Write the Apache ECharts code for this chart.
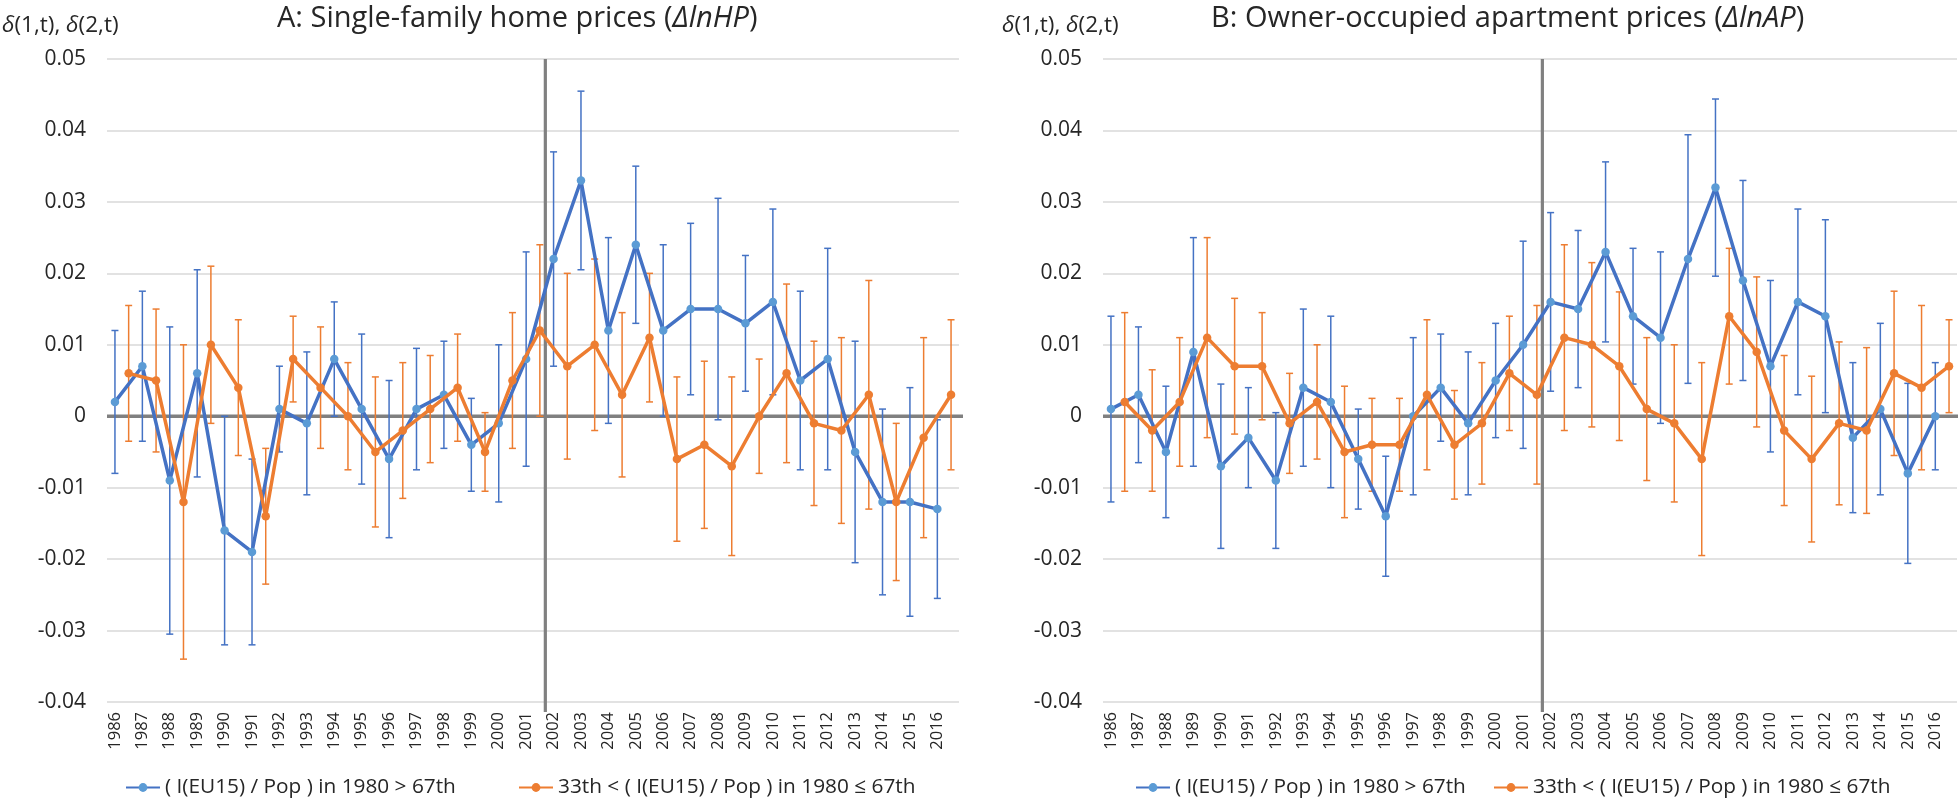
<!DOCTYPE html>
<html><head><meta charset="utf-8">
<script src="https://cdn.jsdelivr.net/npm/echarts@6/dist/echarts.min.js"></script>
<style>html,body{margin:0;padding:0;background:#fff}#c{width:1958px;height:802px}</style>
</head><body><div id="c"></div>
<script>
// ---- data ----
const years = [1986,1987,1988,1989,1990,1991,1992,1993,1994,1995,1996,1997,1998,1999,2000,2001,2002,2003,2004,2005,2006,2007,2008,2009,2010,2011,2012,2013,2014,2015,2016];
const yTicks = [-0.04,-0.03,-0.02,-0.01,0,0.01,0.02,0.03,0.04,0.05];
const breakYear = 2001.7;

const nameHigh = '( I(EU15) / Pop ) in 1980 > 67th';
const nameMid = '33th < ( I(EU15) / Pop ) in 1980 ≤ 67th';

const A_high = [0.002,0.007,-0.009,0.006,-0.016,-0.019,0.001,-0.001,0.008,0.001,-0.006,0.001,0.003,-0.004,-0.001,0.008,0.022,0.033,0.012,0.024,0.012,0.015,0.015,0.013,0.016,0.005,0.008,-0.005,-0.012,-0.012,-0.013];
const A_high_err = [0.010,0.0105,0.0215,0.0145,0.016,0.013,0.006,0.010,0.008,0.0105,0.011,0.0085,0.0075,0.0065,0.011,0.015,0.015,0.0125,0.013,0.011,0.012,0.012,0.0155,0.0095,0.013,0.0125,0.0155,0.0155,0.013,0.016,0.0125];
const A_mid = [0.006,0.005,-0.012,0.010,0.004,-0.014,0.008,0.004,0.000,-0.005,-0.002,0.001,0.004,-0.005,0.005,0.012,0.007,0.010,0.003,0.011,-0.006,-0.004,-0.007,0.000,0.006,-0.001,-0.002,0.003,-0.012,-0.003,0.003];
const A_mid_err = [0.0095,0.010,0.022,0.011,0.0095,0.0095,0.006,0.0085,0.0075,0.0105,0.0095,0.0075,0.0075,0.0055,0.0095,0.012,0.013,0.012,0.0115,0.009,0.0115,0.0117,0.0125,0.008,0.0125,0.0115,0.013,0.016,0.011,0.014,0.0105];

const B_high = [0.001,0.003,-0.005,0.009,-0.007,-0.003,-0.009,0.004,0.002,-0.006,-0.014,0.000,0.004,-0.001,0.005,0.010,0.016,0.015,0.023,0.014,0.011,0.022,0.032,0.019,0.007,0.016,0.014,-0.003,0.001,-0.008,0.000];
const B_high_err = [0.013,0.0095,0.0092,0.016,0.0115,0.007,0.0095,0.011,0.012,0.007,0.0084,0.011,0.0075,0.010,0.008,0.0145,0.0125,0.011,0.0126,0.0095,0.012,0.0174,0.0124,0.014,0.012,0.013,0.0135,0.0105,0.012,0.0126,0.0075];
const B_mid = [0.002,-0.002,0.002,0.011,0.007,0.007,-0.001,0.002,-0.005,-0.004,-0.004,0.003,-0.004,-0.001,0.006,0.003,0.011,0.010,0.007,0.001,-0.001,-0.006,0.014,0.009,-0.002,-0.006,-0.001,-0.002,0.006,0.004,0.007];
const B_mid_err = [0.0125,0.0085,0.009,0.014,0.0095,0.0075,0.007,0.008,0.0092,0.0065,0.0065,0.0105,0.0076,0.0085,0.008,0.0125,0.013,0.0115,0.0104,0.010,0.011,0.0135,0.0095,0.0105,0.0105,0.0116,0.0114,0.0116,0.0115,0.0115,0.0065];

// ---- styling / layout ----
const MID_OFFSET = 0.5;   // second group drawn half a year to the right
const X_MIN = 1985.71, X_MAX = 2016.79;
const FONT = '"Open Sans", Lato, sans-serif';
const TXT = '#262626';
const BLUE_LINE = '#4472C4', BLUE_DOT = '#5B9BD5', ORANGE = '#ED7D31';
const AXIS_GRAY = '#808080';

const chart = echarts.init(document.getElementById('c'), null, {renderer: 'canvas'});

const grids = [
  {left: 107, top: 59, width: 852, height: 643},
  {left: 1103, top: 59, width: 854, height: 643}
];

function xAxisFor(i) {
  return {
    type: 'value', gridIndex: i, min: X_MIN, max: X_MAX,
    axisLine: {show: false}, axisTick: {show: false}, splitLine: {show: false},
    axisLabel: {
      customValues: years, rotate: 90, margin: 10,
      fontFamily: FONT, fontSize: 16.5, color: TXT,
      formatter: v => String(Math.round(v))
    }
  };
}
function yAxisFor(i) {
  return {
    type: 'value', gridIndex: i, min: -0.04, max: 0.05, interval: 0.01,
    axisLine: {show: false}, axisTick: {show: false},
    splitLine: {show: true, lineStyle: {color: '#d9d9d9', width: 1.5}},
    axisLabel: {
      margin: 21, fontFamily: FONT, fontSize: 21, color: TXT,
      formatter: v => {
        const r = Math.round(v * 100) / 100;
        return r === 0 ? '0' : String(r);
      }
    }
  };
}

function errRender(color) {
  return function (params, api) {
    const x = api.value(0), lo = api.value(1), hi = api.value(2);
    const p1 = api.coord([x, hi]), p2 = api.coord([x, lo]);
    const w = 3.5;
    const st = {stroke: color, lineWidth: 1.5};
    return {type: 'group', children: [
      {type: 'line', shape: {x1: p1[0], y1: p1[1], x2: p2[0], y2: p2[1]}, style: st},
      {type: 'line', shape: {x1: p1[0] - w, y1: p1[1], x2: p1[0] + w, y2: p1[1]}, style: st},
      {type: 'line', shape: {x1: p2[0] - w, y1: p2[1], x2: p2[0] + w, y2: p2[1]}, style: st}
    ]};
  };
}

function frameRender(params, api) {
  const z0 = api.coord([X_MIN, 0]), z1 = api.coord([X_MAX, 0]);
  const vTop = api.coord([breakYear, 0.05]), vBot = api.coord([breakYear, -0.04]);
  const st = {stroke: AXIS_GRAY, lineWidth: 3.5};
  return {type: 'group', children: [
    {type: 'line', shape: {x1: z0[0], y1: z0[1], x2: z1[0] + 4, y2: z1[1]}, style: st},
    {type: 'line', shape: {x1: vTop[0], y1: vTop[1], x2: vBot[0], y2: vBot[1] + 10}, style: {stroke: AXIS_GRAY, lineWidth: 3.2}}
  ]};
}

function panelSeries(i, high, highErr, mid, midErr) {
  const highPts = years.map((y, k) => [y, high[k]]);
  const midPts = years.map((y, k) => [y + MID_OFFSET, mid[k]]);
  const highBars = years.map((y, k) => [y, high[k] - highErr[k], high[k] + highErr[k]]);
  const midBars = years.map((y, k) => [y + MID_OFFSET, mid[k] - midErr[k], mid[k] + midErr[k]]);
  return [
    {type: 'custom', xAxisIndex: i, yAxisIndex: i, data: [[X_MIN, 0]], renderItem: frameRender,
     clip: false, silent: true, z: 1, encode: {x: 0, y: 1}},
    {type: 'custom', xAxisIndex: i, yAxisIndex: i, data: highBars, renderItem: errRender(BLUE_LINE),
     encode: {x: 0, y: [1, 2]}, z: 2, silent: true},
    {type: 'custom', xAxisIndex: i, yAxisIndex: i, data: midBars, renderItem: errRender(ORANGE),
     encode: {x: 0, y: [1, 2]}, z: 2, silent: true},
    {type: 'line', name: nameHigh, xAxisIndex: i, yAxisIndex: i, data: highPts,
     symbol: 'circle', symbolSize: 8.5, showAllSymbol: true,
     lineStyle: {color: BLUE_LINE, width: 3.5}, itemStyle: {color: BLUE_DOT}, z: 3},
    {type: 'line', name: nameMid, xAxisIndex: i, yAxisIndex: i, data: midPts,
     symbol: 'circle', symbolSize: 8.5, showAllSymbol: true,
     lineStyle: {color: ORANGE, width: 3.5}, itemStyle: {color: ORANGE}, z: 4}
  ];
}

const legendBase = {
  orient: 'horizontal', top: 777, itemWidth: 34, itemHeight: 11, padding: 0,
  textStyle: {fontFamily: FONT, fontSize: 20.8, color: TXT, fontWeight: 'normal'}
};

const deltaRich = {i: {fontStyle: 'italic', fontWeight: 'normal', fontFamily: FONT, fontSize: 22.5, color: TXT},
                   n: {fontWeight: 'normal', fontFamily: FONT, fontSize: 22.5, color: TXT}};
const titleRich = {i: {fontStyle: 'italic', fontWeight: 'normal', fontFamily: FONT, fontSize: 29, color: TXT},
                   n: {fontWeight: 'normal', fontFamily: FONT, fontSize: 29, color: TXT}};

const option = {
  backgroundColor: '#fff',
  animation: false,
  title: [
    {text: '{n|A: Single-family home prices (}{i|ΔlnHP}{n|)}', left: 277, top: 4, padding: 0,
     textStyle: {fontWeight: 'normal', rich: titleRich}},
    {text: '{n|B: Owner-occupied apartment prices (}{i|ΔlnAP}{n|)}', left: 1211, top: 4, padding: 0,
     textStyle: {fontWeight: 'normal', rich: titleRich}},
    {text: '{i|δ}{n|(1,t), }{i|δ}{n|(2,t)}', left: 2, top: 14, padding: 0,
     textStyle: {fontWeight: 'normal', rich: deltaRich}},
    {text: '{i|δ}{n|(1,t), }{i|δ}{n|(2,t)}', left: 1002, top: 14, padding: 0,
     textStyle: {fontWeight: 'normal', rich: deltaRich}}
  ],
  legend: [
    Object.assign({}, legendBase, {data: [nameHigh], left: 125}),
    Object.assign({}, legendBase, {data: [nameMid], left: 518}),
    Object.assign({}, legendBase, {data: [nameHigh], left: 1135}),
    Object.assign({}, legendBase, {data: [nameMid], left: 1493})
  ],
  grid: grids,
  xAxis: [xAxisFor(0), xAxisFor(1)],
  yAxis: [yAxisFor(0), yAxisFor(1)],
  series: [].concat(
    panelSeries(0, A_high, A_high_err, A_mid, A_mid_err),
    panelSeries(1, B_high, B_high_err, B_mid, B_mid_err)
  )
};
chart.setOption(option);
</script>
</body></html>
